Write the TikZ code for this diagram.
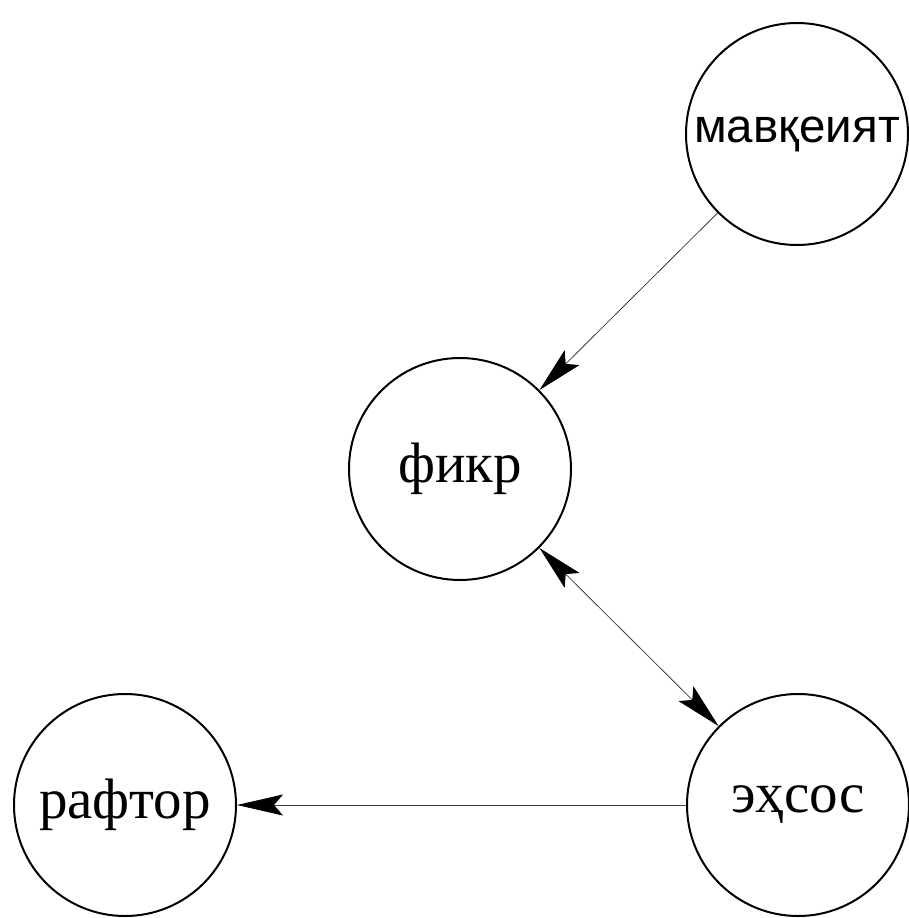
\documentclass[tikz,border=0pt]{standalone}
\usepackage{fontspec}
\setmainfont{Liberation Serif}
\newfontfamily\labsans{Liberation Sans}
\usetikzlibrary{arrows.meta}
\begin{document}
\begin{tikzpicture}[x=1pt,y=-1pt,
  concept/.style={draw, circle, line width=2pt, minimum size=222pt, inner sep=0pt,
    font=\fontsize{57}{66}\selectfont},
  sanslabel/.style={font=\labsans\fontsize{47.5}{56}\selectfont},
  tip/.tip={Stealth[length=46pt,width=21pt,inset=9pt,fill=black,color=black]},
  link/.style={line width=0.8pt, draw=black!75, -tip},
  duallink/.style={line width=0.8pt, draw=black!75, tip-tip}]
\useasboundingbox (0,0) rectangle (909,918);
\node[concept, sanslabel] (mav) at (797,134) {мавқеият};
\node[concept] (fikr) at (460,469) {фикр};
\node[concept] (ehsos) at (798,805) {эҳсос};
\node[concept] (raftor) at (125,805) {рафтор};
\draw[link] (mav) -- (fikr);
\draw[duallink] (fikr) -- (ehsos);
\draw[link] (ehsos) -- (raftor);
\end{tikzpicture}
\end{document}
